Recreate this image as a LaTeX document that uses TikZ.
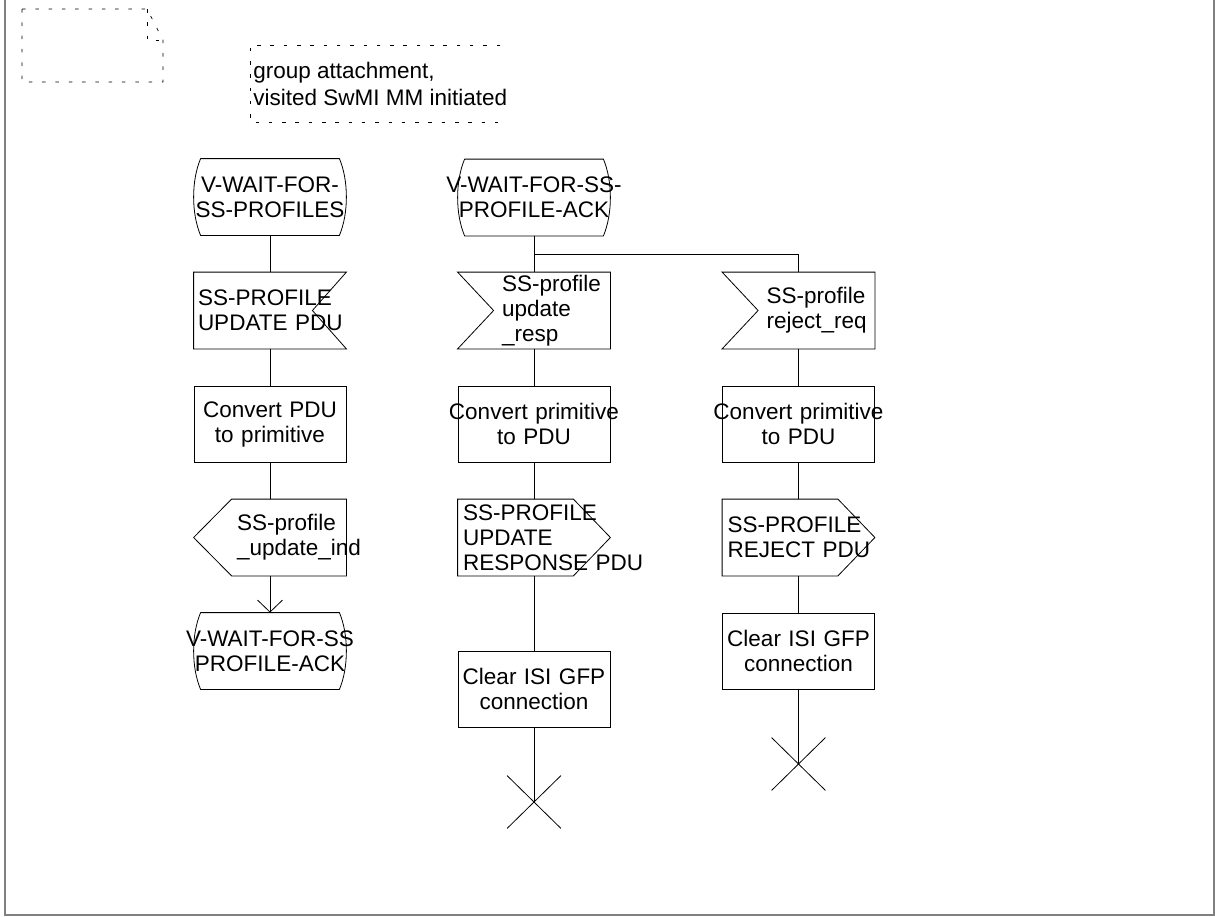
\documentclass[tikz,border=0pt]{standalone}
\usepackage{fontspec}
\setmainfont{Liberation Sans}
\usetikzlibrary{arrows.meta,calc}
\definecolor{framegray}{HTML}{808080}
\newcommand{\sdlfont}{\fontsize{22.5}{25}\selectfont}

\begin{document}
\begin{tikzpicture}[x=1pt, y=-1pt, line width=0.8pt,
  sym/.style={inner sep=0pt, text width=152pt, minimum height=76pt, align=center, font=\sdlfont},
  task/.style={sym, draw},
  state/.style={sym, append after command={\pgfextra{
    \draw ($(\tikzlastnode.north west)+(7,0)$) -- ($(\tikzlastnode.north east)+(-7,0)$)
      .. controls ($(\tikzlastnode.north east)+(2.3,22)$) and ($(\tikzlastnode.south east)+(2.3,-22)$) .. ($(\tikzlastnode.south east)+(-7,0)$)
      -- ($(\tikzlastnode.south west)+(7,0)$)
      .. controls ($(\tikzlastnode.south west)+(-2.3,-22)$) and ($(\tikzlastnode.north west)+(-2.3,22)$) .. ($(\tikzlastnode.north west)+(7,0)$);}}},
  inleft/.style={sym, align=left, execute at begin node={\leftskip=44pt}, append after command={\pgfextra{
    \draw (\tikzlastnode.north west) -- (\tikzlastnode.north east) -- (\tikzlastnode.south east)
      -- (\tikzlastnode.south west) -- ($(\tikzlastnode.west)+(36,0)$) -- cycle;}}},
  inright/.style={sym, align=left, execute at begin node={\leftskip=4pt}, append after command={\pgfextra{
    \draw (\tikzlastnode.north west) -- (\tikzlastnode.north east) -- ($(\tikzlastnode.east)+(-34,0)$)
      -- (\tikzlastnode.south east) -- (\tikzlastnode.south west) -- cycle;}}},
  outright/.style={sym, align=left, execute at begin node={\leftskip=5pt}, append after command={\pgfextra{
    \draw (\tikzlastnode.north west) -- ($(\tikzlastnode.north east)+(-37,0)$) -- (\tikzlastnode.east)
      -- ($(\tikzlastnode.south east)+(-37,0)$) -- (\tikzlastnode.south west) -- cycle;}}},
  outleft/.style={sym, align=left, execute at begin node={\leftskip=43pt}, append after command={\pgfextra{
    \draw ($(\tikzlastnode.north west)+(38,0)$) -- (\tikzlastnode.north east) -- (\tikzlastnode.south east)
      -- ($(\tikzlastnode.south west)+(38,0)$) -- (\tikzlastnode.west) -- cycle;}}},
  stopx/.style={inner sep=0pt, minimum width=53pt, minimum height=52pt, append after command={\pgfextra{
    \draw (\tikzlastnode.north west) -- (\tikzlastnode.south east)
          (\tikzlastnode.north east) -- (\tikzlastnode.south west);}}},
  cmtline/.style={line width=0.7pt, dash pattern=on 3.5pt off 9.8pt}]

  \useasboundingbox (0,0) rectangle (1215,916);

  % Frame
  \draw[framegray, line width=2pt] (5,0) -- (5,915) -- (1214,915) -- (1214,0);

  % Text symbol and comment
  \draw[cmtline] (22,9) -- (147,9) -- (163,40) -- (163,82) -- (22,82) -- cycle;
  \draw[cmtline] (147,9) -- (147,40) -- (163,40);
  \draw[cmtline] (500,45) -- (250,45) -- (250,122) -- (500,122);
  \node[font=\sdlfont, align=left, anchor=west, inner sep=0pt] (cmt) at (253,84) {group attachment,\\[2pt]visited SwMI MM initiated};

  % Column 1
  \node[state] (s1) at (270,197) {\mbox{V-WAIT-FOR-}\\\mbox{SS-PROFILES}};
  \node[inright] (in1) at (270,310.5) {SS-PROFILE\\UPDATE~PDU};
  \node[task] (t1) at (270,424) {Convert PDU\\to primitive};
  \node[outleft] (o1) at (270,537.5) {SS-profile\\\_update\_ind};
  \node[state] (s1b) at (270,651) {\makebox[\linewidth]{V-WAIT-FOR-SS}\\\mbox{PROFILE-ACK}};

  % Column 2
  \node[state] (s2) at (534,197.5) {\makebox[\linewidth]{V-WAIT-FOR-SS-}\\\mbox{PROFILE-ACK}};
  \node[inleft] (in2) at (534,310.5) {SS-profile\\update\\\_resp};
  \node[task] (t2) at (534,424) {\makebox[\linewidth]{Convert primitive}\\to PDU};
  \node[outright] (o2) at (534,537.5) {SS-PROFILE\\UPDATE\\RESPONSE~PDU};
  \node[task] (t2b) at (534,689) {Clear ISI GFP\\connection};
  \node[stopx] (x2) at (534,802) {};

  % Column 3
  \node[inleft] (in3) at (798.5,310.5) {SS-profile\\reject\_req};
  \node[task] (t3) at (798.5,424) {\makebox[\linewidth]{Convert primitive}\\to PDU};
  \node[outright] (o3) at (798.5,537.5) {SS-PROFILE\\REJECT~PDU};
  \node[task] (t3b) at (798.5,651) {Clear ISI GFP\\connection};
  \node[stopx] (x3) at (798.5,764) {};

  % Flow lines
  \draw (s1) -- (in1);
  \draw (in1) -- (t1);
  \draw (t1) -- (o1);
  \draw[-{Straight Barb[length=12pt,width=25pt]}] (o1) -- (s1b);

  \coordinate (br) at (534,254);
  \draw (s2) -- (in2);
  \draw (br) -| (in3);
  \draw (in2) -- (t2);
  \draw (t2) -- (o2);
  \draw (o2) -- (t2b);
  \draw (t2b) -- (x2.center);

  \draw (in3) -- (t3);
  \draw (t3) -- (o3);
  \draw (o3) -- (t3b);
  \draw (t3b) -- (x3.center);

\end{tikzpicture}
\end{document}
